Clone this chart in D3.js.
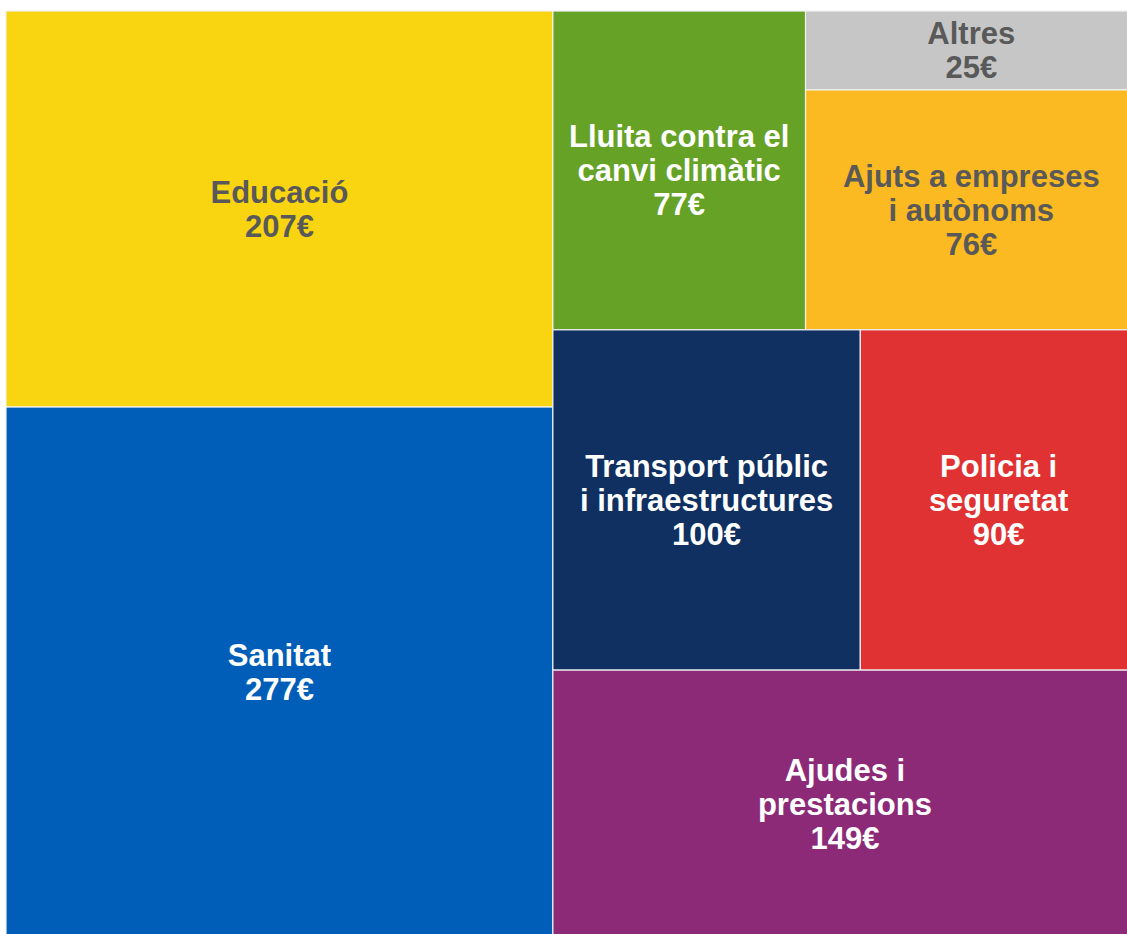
<!DOCTYPE html>
<html>
<head>
<meta charset="utf-8">
<script src="https://cdn.jsdelivr.net/npm/d3@7"></script>
<style>
  html, body { margin: 0; padding: 0; background: #fff; }
  svg { display: block; }
  text { font-family: "Liberation Sans", Arial, sans-serif; font-weight: bold; }
</style>
</head>
<body>
<svg id="chart" width="1127" height="934"></svg>
<script>
// Spending per inhabitant, by area (euros)
const categories = [
  "Educació",
  "Sanitat",
  "Lluita contra el canvi climàtic",
  "Altres",
  "Ajuts a empreses i autònoms",
  "Transport públic i infraestructures",
  "Policia i seguretat",
  "Ajudes i prestacions"
];
const values = [207, 277, 77, 25, 76, 100, 90, 149];
// Wrapped label lines for each area
const labelLines = [
  ["Educació"],
  ["Sanitat"],
  ["Lluita contra el", "canvi climàtic"],
  ["Altres"],
  ["Ajuts a empreses", "i autònoms"],
  ["Transport públic", "i infraestructures"],
  ["Policia i", "seguretat"],
  ["Ajudes i", "prestacions"]
];
const colors = ["#F9D511", "#005EB8", "#66A226", "#C6C6C6", "#FBBA21", "#0F3060", "#E03133", "#8C2A78"];
const textColors = ["#595959", "#fff", "#fff", "#595959", "#595959", "#fff", "#fff", "#fff"];

// Grouping of the areas into nested blocks; splits alternate
// horizontal / vertical with depth, siblings keep this order.
const nodeIds = [
  "total",
  "left", categories[0], categories[1],
  "right",
  "upper", categories[2], "small", categories[3], categories[4],
  "middle", categories[5], categories[6],
  categories[7]
];
const nodeParents = [
  "",
  "total", "left", "left",
  "total",
  "right", "upper", "upper", "small", "small",
  "right", "middle", "middle",
  "right"
];

const svg = d3.select("#chart");
const marginLeft = 6, marginTop = 11, plotW = 1131, plotH = 926;

const root = d3.stratify()
  .id(d => d)
  .parentId((d, i) => nodeParents[i] || null)(nodeIds)
  .sum(d => {
    const i = categories.indexOf(d);
    return i >= 0 ? values[i] : 0;
  });

d3.treemap()
  .tile(d3.treemapSliceDice)
  .size([plotW, plotH])
  .round(false)(root);

const g = svg.append("g").attr("transform", `translate(${marginLeft},${marginTop})`);

const cell = g.selectAll("g.cell")
  .data(root.leaves())
  .join("g")
  .attr("class", "cell");

cell.append("rect")
  .attr("x", d => d.x0)
  .attr("y", d => d.y0)
  .attr("width", d => d.x1 - d.x0)
  .attr("height", d => d.y1 - d.y0)
  .attr("fill", d => colors[categories.indexOf(d.id)])
  .attr("stroke", "#f2f2f2")
  .attr("stroke-width", 1.2);

const lineH = 34;
cell.each(function(d) {
  const i = categories.indexOf(d.id);
  const lines = labelLines[i].concat([values[i] + "€"]);
  const cx = (d.x0 + d.x1) / 2;
  const cy = (d.y0 + d.y1) / 2;
  const t = d3.select(this).append("text")
    .attr("text-anchor", "middle")
    .attr("fill", textColors[i])
    .attr("font-size", 31);
  lines.forEach((ln, k) => {
    t.append("tspan")
      .attr("x", cx)
      .attr("y", cy + (k - (lines.length - 1) / 2) * lineH + 11)
      .text(ln);
  });
});
</script>
</body>
</html>
